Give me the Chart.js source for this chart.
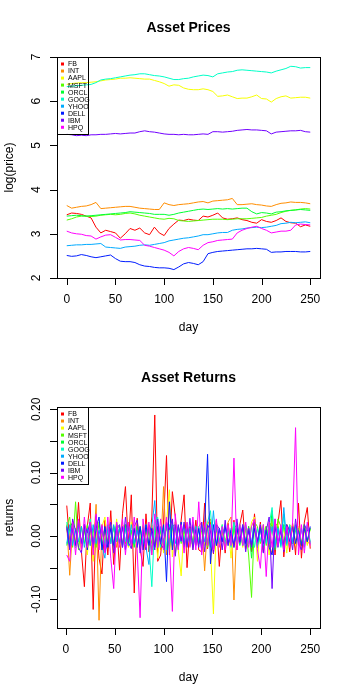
<!DOCTYPE html>
<html>
<head>
<meta charset="utf-8">
<script src="https://cdn.jsdelivr.net/npm/chart.js@4.4.0/dist/chart.umd.min.js"></script>
<style>
  body { margin: 0; background: #fff; }
  canvas { display: block; }
</style>
</head>
<body>
<canvas id="prices" width="350" height="350"></canvas>
<canvas id="returns" width="350" height="350"></canvas>
<script>
const names = ["FB", "INT", "AAPL", "MSFT", "ORCL", "GOOG", "YHOO", "DELL", "IBM", "HPQ"];
const colors = ["#FF0000", "#FF8D00", "#F7FF00", "#55FF00", "#00FF33",
                "#00FFC7", "#00AAFF", "#001CFF", "#7100FF", "#FF00FF"];

// log prices, read every 5 days
const priceDays = [0,5,10,15,20,25,30,35,40,45,50,55,60,65,70,75,80,85,90,95,
  100,105,110,115,120,125,130,135,140,145,150,155,160,165,170,175,180,185,190,195,
  200,205,210,215,220,225,230,235,240,245,250];
const priceFB = [3.43,3.47,3.46,3.44,3.40,3.36,3.15,3.02,3.08,3.05,
  3.02,2.90,3.00,3.12,3.08,3.13,3.02,2.98,3.15,3.02,
  2.96,3.12,3.22,3.31,3.30,3.33,3.31,3.30,3.40,3.38,
  3.42,3.47,3.36,3.33,3.34,3.36,3.32,3.30,3.26,3.24,
  3.32,3.28,3.26,3.30,3.36,3.28,3.25,3.24,3.16,3.20,3.17];
const priceINT = [3.64,3.58,3.60,3.62,3.63,3.66,3.71,3.57,3.58,3.59,
  3.60,3.61,3.62,3.62,3.60,3.58,3.57,3.56,3.55,3.55,
  3.70,3.66,3.64,3.66,3.67,3.68,3.70,3.72,3.73,3.70,
  3.74,3.75,3.76,3.77,3.80,3.66,3.66,3.67,3.68,3.66,
  3.65,3.63,3.62,3.66,3.69,3.70,3.72,3.71,3.71,3.70,3.68];
const priceAAPL = [6.38,6.40,6.41,6.42,6.42,6.43,6.44,6.46,6.48,6.49,
  6.50,6.52,6.52,6.53,6.52,6.51,6.50,6.50,6.47,6.44,
  6.40,6.34,6.37,6.36,6.30,6.27,6.26,6.26,6.28,6.26,
  6.22,6.11,6.12,6.14,6.10,6.06,6.07,6.07,6.10,6.14,
  6.06,6.05,5.98,6.06,6.10,6.12,6.07,6.08,6.09,6.09,6.07];
const priceMSFT = [3.31,3.34,3.38,3.40,3.40,3.39,3.40,3.42,3.43,3.44,
  3.43,3.44,3.46,3.47,3.45,3.42,3.40,3.38,3.36,3.34,
  3.33,3.35,3.34,3.30,3.29,3.28,3.29,3.30,3.31,3.32,
  3.33,3.33,3.33,3.32,3.33,3.34,3.34,3.34,3.35,3.36,
  3.37,3.40,3.42,3.44,3.48,3.51,3.53,3.54,3.56,3.57,3.56];
const priceORCL = [3.40,3.41,3.42,3.41,3.40,3.41,3.42,3.43,3.44,3.45,
  3.46,3.47,3.48,3.50,3.49,3.48,3.47,3.46,3.44,3.44,
  3.44,3.42,3.44,3.47,3.49,3.51,3.53,3.55,3.56,3.55,
  3.56,3.57,3.56,3.57,3.56,3.57,3.58,3.58,3.50,3.45,
  3.48,3.47,3.45,3.49,3.50,3.52,3.53,3.54,3.55,3.54,3.53];
const priceGOOG = [6.33,6.34,6.35,6.36,6.37,6.38,6.42,6.48,6.50,6.51,
  6.53,6.55,6.57,6.59,6.60,6.62,6.62,6.60,6.58,6.57,
  6.55,6.52,6.49,6.49,6.51,6.52,6.55,6.57,6.59,6.58,
  6.55,6.62,6.64,6.66,6.67,6.70,6.71,6.70,6.69,6.68,
  6.67,6.66,6.64,6.68,6.71,6.74,6.79,6.78,6.75,6.76,6.76];
const priceYHOO = [2.73,2.74,2.75,2.75,2.76,2.76,2.77,2.78,2.70,2.69,
  2.68,2.67,2.70,2.71,2.72,2.74,2.75,2.74,2.76,2.78,
  2.80,2.84,2.86,2.88,2.90,2.91,2.93,2.95,2.98,2.98,
  3.00,3.02,3.03,3.03,3.08,3.10,3.11,3.13,3.14,3.15,
  3.14,3.15,3.17,3.19,3.23,3.24,3.26,3.25,3.26,3.27,3.25];
const priceDELL = [2.51,2.49,2.50,2.53,2.51,2.48,2.46,2.48,2.50,2.52,
  2.44,2.38,2.37,2.37,2.35,2.30,2.27,2.26,2.24,2.23,
  2.23,2.22,2.19,2.25,2.32,2.35,2.33,2.30,2.37,2.55,
  2.58,2.60,2.61,2.62,2.63,2.64,2.65,2.66,2.66,2.67,
  2.66,2.65,2.58,2.59,2.59,2.60,2.60,2.60,2.59,2.59,2.60];
const priceIBM = [5.25,5.24,5.22,5.23,5.22,5.24,5.24,5.25,5.25,5.26,
  5.27,5.26,5.27,5.28,5.28,5.31,5.33,5.31,5.30,5.28,
  5.26,5.25,5.25,5.24,5.25,5.24,5.24,5.25,5.26,5.25,
  5.31,5.31,5.30,5.31,5.32,5.34,5.35,5.36,5.35,5.35,
  5.34,5.33,5.26,5.30,5.31,5.32,5.33,5.33,5.34,5.31,5.30];
const priceHPQ = [3.06,3.02,3.00,2.99,2.96,2.95,2.88,2.93,2.97,2.98,
  2.92,2.86,2.87,2.87,2.86,2.85,2.74,2.72,2.69,2.66,
  2.63,2.58,2.50,2.60,2.66,2.69,2.67,2.64,2.74,2.80,
  2.82,2.85,2.86,2.87,2.88,3.02,3.08,3.12,3.15,3.17,
  3.12,3.08,3.02,3.04,3.06,3.06,3.08,3.20,3.22,3.21,3.20];

// daily returns, read every 3 days
const retDays = [1,4,7,10,13,16,19,22,25,28,31,34,
  37,40,43,46,49,52,55,58,61,64,67,70,
  73,76,79,82,85,88,91,94,97,100,103,106,
  109,112,115,118,121,124,127,130,133,136,139,142,
  145,148,151,154,157,160,163,166,169,172,175,178,
  181,184,187,190,193,196,199,202,205,208,211,214,
  217,220,223,226,229,232,235,238,241,244,247,250];
const retFB = [0.048,-0.012,0.021,-0.018,0.053,-0.025,-0.080,0.015,0.052,-0.116,0.030,-0.035,
  -0.060,0.025,-0.030,0.040,-0.045,0.020,-0.054,0.035,0.078,-0.015,0.065,-0.090,
  0.028,-0.020,-0.048,0.035,-0.025,0.030,0.191,-0.040,-0.030,0.022,0.127,-0.030,
  0.070,0.030,-0.020,0.025,0.065,-0.050,0.015,-0.018,0.025,-0.022,-0.025,0.052,
  -0.020,0.022,-0.028,0.025,-0.048,0.015,-0.027,0.020,-0.015,0.025,-0.022,0.018,
  0.041,-0.020,0.015,-0.025,0.035,-0.018,0.022,-0.025,0.015,-0.020,0.027,-0.030,
  0.020,0.056,-0.033,0.018,-0.025,0.020,-0.030,0.052,-0.035,0.022,0.045,-0.020];
const retINT = [0.018,-0.062,0.015,-0.012,0.022,-0.015,0.012,-0.018,0.027,-0.022,0.050,-0.133,
  0.018,-0.015,0.012,-0.009,0.015,-0.018,0.009,0.015,-0.012,0.018,-0.015,0.012,
  -0.018,0.015,-0.022,0.009,-0.015,0.018,-0.012,0.015,-0.022,0.078,-0.030,0.015,
  -0.018,0.022,-0.012,0.015,-0.018,0.021,-0.015,0.018,-0.009,0.015,0.022,-0.055,
  0.018,0.027,-0.015,0.018,-0.012,0.015,-0.018,0.022,0.030,-0.101,0.018,-0.012,
  0.015,-0.015,0.012,-0.018,0.015,-0.012,0.018,-0.022,0.015,-0.015,-0.027,0.021,
  0.015,-0.012,0.018,0.012,-0.015,0.018,-0.009,0.012,-0.015,0.015,-0.012,-0.009];
const retAAPL = [0.012,-0.015,0.018,-0.012,0.015,-0.022,0.018,-0.030,0.015,-0.040,0.022,-0.018,
  0.015,0.030,-0.015,0.018,-0.012,0.027,-0.015,0.018,0.012,-0.018,0.022,-0.015,
  0.015,-0.012,0.018,-0.022,0.015,-0.030,0.018,-0.035,0.015,-0.027,0.022,0.073,
  -0.033,0.015,-0.022,-0.063,0.018,-0.015,0.012,-0.022,0.015,-0.012,0.018,-0.015,
  0.022,-0.018,-0.123,0.022,-0.015,0.018,-0.012,0.015,-0.035,0.018,-0.015,0.012,
  -0.018,0.015,-0.012,0.022,0.030,-0.040,0.018,-0.015,0.012,-0.030,0.027,-0.015,
  0.018,-0.012,0.015,-0.027,0.018,0.012,-0.015,0.015,-0.012,0.009,-0.015,0.012];
const retMSFT = [0.015,0.030,-0.018,0.054,-0.022,0.015,-0.012,0.018,-0.015,0.012,-0.018,0.022,
  -0.015,0.012,-0.009,0.015,-0.018,0.012,0.015,-0.012,0.018,-0.015,0.009,-0.012,
  0.015,-0.018,0.012,-0.015,0.009,-0.012,0.015,-0.018,0.012,-0.009,0.015,-0.022,
  0.018,-0.030,0.015,-0.012,0.009,-0.015,0.012,-0.009,0.015,-0.012,0.009,0.015,
  -0.018,0.012,-0.015,0.018,-0.012,0.009,-0.015,0.012,-0.009,0.015,-0.012,0.018,
  -0.015,0.012,-0.030,-0.097,0.022,0.015,-0.012,0.018,-0.015,0.022,0.015,-0.018,
  0.027,0.015,-0.012,0.018,0.009,-0.012,0.015,0.009,-0.012,0.018,-0.009,0.012];
const retORCL = [-0.015,0.012,0.022,-0.018,0.015,-0.012,0.009,-0.015,0.018,-0.012,0.015,-0.009,
  0.012,-0.015,0.018,-0.012,0.015,-0.009,0.012,-0.015,0.018,-0.012,0.009,-0.018,
  0.015,-0.012,0.015,-0.018,0.012,-0.022,0.015,-0.012,0.009,-0.015,0.018,-0.012,
  0.015,0.018,-0.015,0.012,-0.009,0.018,-0.012,0.015,-0.009,0.012,-0.015,0.018,
  -0.012,0.015,-0.018,0.012,-0.009,0.015,-0.012,0.009,-0.015,0.012,0.018,-0.015,
  0.012,-0.009,0.015,-0.035,0.018,-0.015,0.012,-0.018,0.015,-0.012,0.040,-0.022,
  0.015,-0.012,0.018,-0.009,0.015,-0.012,0.009,0.012,-0.015,0.018,-0.009,0.012];
const retGOOG = [0.022,-0.015,0.012,-0.018,0.015,-0.012,0.018,-0.009,0.027,-0.015,0.018,-0.012,
  0.015,-0.018,0.012,0.018,-0.015,0.021,-0.012,0.015,-0.009,0.018,-0.015,0.012,
  -0.018,0.015,-0.012,0.018,-0.015,-0.080,0.022,0.030,-0.018,0.015,-0.022,0.018,
  -0.015,0.012,-0.018,0.015,-0.012,0.018,-0.015,0.022,-0.012,0.015,-0.018,0.012,
  0.022,0.040,-0.018,0.015,-0.012,0.018,-0.015,0.012,-0.018,0.022,-0.012,0.015,
  -0.015,0.018,-0.012,0.015,-0.018,0.012,-0.009,0.015,-0.012,0.018,0.045,-0.015,
  0.012,-0.018,0.035,-0.015,0.018,-0.012,0.015,-0.009,0.012,-0.015,0.018,-0.009];
const retYHOO = [-0.012,0.018,-0.015,0.012,-0.009,0.015,-0.018,0.012,-0.015,0.018,-0.012,0.009,
  -0.015,-0.035,0.015,-0.012,0.018,-0.009,0.015,-0.018,0.012,-0.015,0.018,-0.012,
  0.009,-0.015,0.012,-0.018,-0.045,0.015,0.056,-0.018,0.015,-0.012,0.018,-0.015,
  0.022,-0.012,0.015,-0.009,0.018,-0.015,0.012,-0.018,0.015,-0.012,0.018,-0.009,
  0.015,-0.018,0.040,-0.015,0.012,-0.009,0.018,-0.015,0.012,-0.018,0.015,-0.012,
  0.018,-0.015,0.012,-0.009,0.015,-0.018,0.012,-0.015,0.009,-0.012,0.015,-0.018,
  0.012,-0.015,0.045,-0.012,0.015,-0.009,0.018,-0.015,0.012,-0.018,0.015,-0.012];
const retDELL = [0.015,-0.018,0.012,-0.015,0.022,-0.012,0.018,-0.022,0.015,-0.018,0.012,0.030,
  -0.022,0.015,-0.018,0.012,-0.015,0.018,-0.012,0.015,-0.022,0.018,-0.015,0.012,
  -0.018,0.015,-0.022,0.018,-0.015,0.012,-0.018,0.015,-0.012,0.018,-0.072,0.054,
  -0.022,0.018,-0.015,0.022,-0.018,0.015,-0.012,0.018,-0.015,0.012,-0.022,0.015,
  0.129,-0.044,0.018,-0.015,0.012,-0.009,0.015,-0.012,0.009,-0.015,0.012,-0.009,
  0.015,-0.012,0.009,-0.015,0.012,-0.009,0.015,-0.012,0.009,-0.018,-0.030,0.015,
  -0.012,0.009,-0.015,0.012,-0.009,0.015,-0.012,0.009,-0.015,0.012,-0.009,0.015];
const retIBM = [0.012,-0.022,0.027,0.008,-0.018,-0.027,0.018,0.005,0.022,-0.018,0.032,-0.012,
  0.015,-0.025,-0.008,0.022,-0.027,0.012,0.018,-0.018,0.030,-0.010,-0.020,0.015,
  0.025,-0.027,0.010,-0.022,0.018,0.005,-0.022,0.027,-0.012,-0.020,0.022,0.010,
  0.027,-0.032,0.018,-0.008,0.022,-0.018,0.028,-0.022,0.010,-0.018,0.022,-0.025,
  0.018,0.008,-0.027,0.018,0.012,-0.022,0.025,-0.015,0.005,-0.018,0.027,-0.010,
  0.018,-0.025,0.012,-0.018,0.022,-0.010,0.018,-0.027,0.008,0.030,-0.083,0.027,
  -0.018,0.012,-0.025,0.018,0.008,-0.022,0.027,-0.012,-0.022,0.018,0.008,0.012];
const retHPQ = [-0.030,-0.040,0.022,-0.030,0.027,-0.022,0.030,-0.018,0.022,-0.030,0.035,-0.022,
  0.018,-0.027,0.030,-0.035,-0.083,0.022,-0.018,0.027,-0.030,0.022,-0.015,0.030,
  -0.022,-0.129,0.027,-0.018,0.022,-0.030,0.035,-0.018,0.027,-0.022,0.030,-0.015,
  -0.119,0.035,-0.022,0.018,-0.027,0.022,-0.018,0.030,-0.022,0.054,-0.030,0.022,
  -0.015,0.018,-0.022,0.027,-0.018,0.015,-0.022,0.018,-0.015,0.123,-0.022,0.018,
  -0.015,0.022,-0.018,0.015,0.027,-0.022,-0.051,0.018,-0.064,0.022,-0.018,0.027,
  -0.015,0.018,-0.022,0.015,-0.018,0.022,0.171,-0.030,0.018,-0.027,0.022,-0.015];

const prices = [priceFB, priceINT, priceAAPL, priceMSFT, priceORCL,
                priceGOOG, priceYHOO, priceDELL, priceIBM, priceHPQ];
const returns = [retFB, retINT, retAAPL, retMSFT, retORCL,
                 retGOOG, retYHOO, retDELL, retIBM, retHPQ];

const dayTicks = [0, 50, 100, 150, 200, 250];
const priceTicks = [2, 3, 4, 5, 6, 7];
const priceTickLabels = ["2", "3", "4", "5", "6", "7"];
const retTicks = [-0.10, -0.05, 0.00, 0.05, 0.10, 0.15, 0.20];
const retTickLabels = ["-0.10", "", "0.00", "", "0.10", "", "0.20"];

const FONT = '"Liberation Sans", Arial, Helvetica, sans-serif';

// base-R look: box, outside ticks, rotated y labels, titles and legend
const rStyle = {
  id: "rStyle",
  afterDraw(chart, args, o) {
    const ctx = chart.ctx, a = chart.chartArea;
    const xs = chart.scales.x, ys = chart.scales.y;
    ctx.save();
    ctx.strokeStyle = "#000";
    ctx.fillStyle = "#000";
    ctx.lineWidth = 1;
    ctx.strokeRect(Math.round(a.left) + 0.5, Math.round(a.top) + 0.5,
                   Math.round(a.right - a.left), Math.round(a.bottom - a.top));

    // x axis
    ctx.font = "12px " + FONT;
    ctx.textAlign = "center";
    ctx.textBaseline = "middle";
    ctx.beginPath();
    for (const t of o.xTicks) {
      const px = Math.round(xs.getPixelForValue(t)) + 0.5;
      ctx.moveTo(px, a.bottom);
      ctx.lineTo(px, a.bottom + 7);
    }
    ctx.stroke();
    for (const t of o.xTicks) {
      ctx.fillText(String(t), xs.getPixelForValue(t), a.bottom + 22);
    }

    // y axis
    ctx.beginPath();
    for (const t of o.yTicks) {
      const py = Math.round(ys.getPixelForValue(t)) + 0.5;
      ctx.moveTo(a.left - 7, py);
      ctx.lineTo(a.left, py);
    }
    ctx.stroke();
    o.yTicks.forEach((t, i) => {
      if (!o.yLabels[i]) return;
      ctx.save();
      ctx.translate(a.left - 20, ys.getPixelForValue(t));
      ctx.rotate(-Math.PI / 2);
      ctx.fillText(o.yLabels[i], 0, 0);
      ctx.restore();
    });

    // titles
    const cx = (a.left + a.right) / 2;
    ctx.fillText(o.xTitle, cx, a.bottom + 50);
    ctx.save();
    ctx.translate(10, (a.top + a.bottom) / 2);
    ctx.rotate(-Math.PI / 2);
    ctx.fillText(o.yTitle, 0, 0);
    ctx.restore();
    ctx.font = "bold 14px " + FONT;
    ctx.fillText(o.title, cx, 28);

    // legend
    const lx = Math.round(a.left) + 0.5, ly = Math.round(a.top) + 0.5;
    ctx.strokeRect(lx, ly, 31, 77);
    ctx.font = "7px " + FONT;
    ctx.textAlign = "left";
    names.forEach((n, i) => {
      const y = a.top + 7 + i * 7.03;
      ctx.fillStyle = colors[i];
      ctx.fillRect(a.left + 4, y - 1.5, 3, 3);
      ctx.fillStyle = "#000";
      ctx.fillText(n, a.left + 11, y + 0.5);
    });
    ctx.restore();
  }
};

function makeChart(id, days, series, xMin, yMin, yMax, style) {
  const datasets = series.map((vals, i) => ({
    label: names[i],
    data: vals.map((v, j) => ({ x: days[j], y: v })),
    borderColor: colors[i],
    borderWidth: 1,
    pointRadius: 0,
    tension: 0,
    order: series.length - i
  }));
  return new Chart(document.getElementById(id), {
    type: "line",
    data: { datasets: datasets },
    options: {
      responsive: false,
      animation: false,
      devicePixelRatio: 1,
      layout: { padding: { left: 57, right: 30, top: 57, bottom: 72 } },
      plugins: {
        legend: { display: false },
        tooltip: { enabled: false },
        rStyle: style
      },
      scales: {
        x: { type: "linear", min: xMin, max: 260, display: false },
        y: { type: "linear", min: yMin, max: yMax, display: false }
      }
    },
    plugins: [rStyle]
  });
}

makeChart("prices", priceDays, prices, -10, 2, 7, {
  title: "Asset Prices", xTitle: "day", yTitle: "log(price)",
  xTicks: dayTicks, yTicks: priceTicks, yLabels: priceTickLabels
});
makeChart("returns", retDays, returns, -9, -0.1452, 0.2036, {
  title: "Asset Returns", xTitle: "day", yTitle: "returns",
  xTicks: dayTicks, yTicks: retTicks, yLabels: retTickLabels
});
</script>
</body>
</html>
